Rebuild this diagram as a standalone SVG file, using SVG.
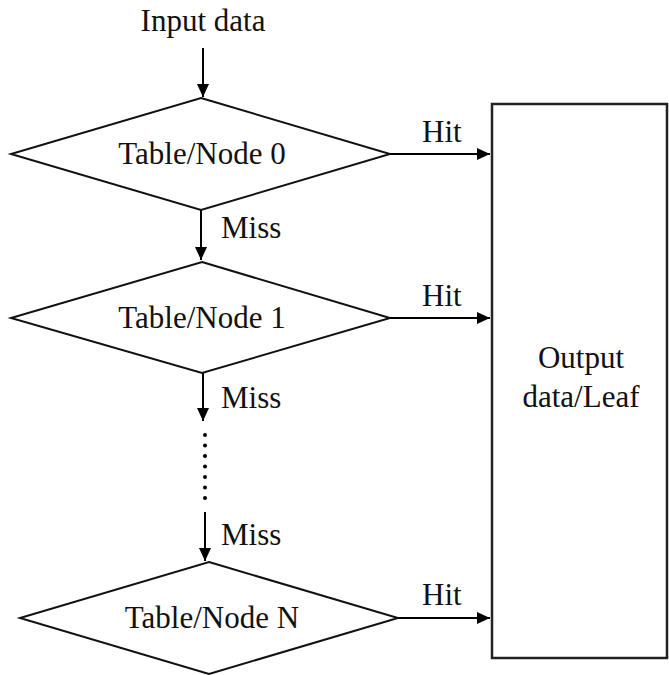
<svg xmlns="http://www.w3.org/2000/svg" width="669" height="675" viewBox="0 0 669 675">
  <defs>
    <marker id="arrow" markerUnits="userSpaceOnUse" markerWidth="13" markerHeight="12" refX="13" refY="6" orient="auto">
      <path d="M0,0 L13,6 L0,12 z" fill="#000"/>
    </marker>
    <style>
      text { font-family: "Liberation Serif", "Times New Roman", serif; font-size: 31px; fill: #111; }
      .mid { text-anchor: middle; }
      .shape { fill: #fff; stroke: #111; stroke-width: 2; }
      .box { fill: #fff; stroke: #222; stroke-width: 2.5; }
      .edge { fill: none; stroke: #000; stroke-width: 2; marker-end: url(#arrow); }
      .dot { fill: #000; }
    </style>
  </defs>
  <rect width="669" height="675" fill="#fff"/>

  <text class="mid" x="203" y="31">Input data</text>

  <g id="node0">
    <polygon class="shape" points="201,98 390,154 201,210 11,154"/>
    <text class="mid" x="202" y="164">Table/Node 0</text>
  </g>

  <g id="node1">
    <polygon class="shape" points="202,262 390,318 202,373 11,318"/>
    <text class="mid" x="202" y="328">Table/Node 1</text>
  </g>

  <g id="nodeN">
    <polygon class="shape" points="209,562 398,618 209,674 20,618"/>
    <text class="mid" x="212" y="628">Table/Node N</text>
  </g>

  <g id="leaf">
    <rect class="box" x="492" y="104" width="175" height="554"/>
    <text class="mid" x="581" y="368">Output</text>
    <text class="mid" x="581" y="407">data/Leaf</text>
  </g>

  <g id="connectors">
    <line class="edge" x1="203" y1="48" x2="203" y2="97"/>
    <line class="edge" x1="201" y1="210" x2="201" y2="260"/>
    <line class="edge" x1="203" y1="373" x2="203" y2="421"/>
    <line class="edge" x1="205" y1="512" x2="205" y2="561"/>
    <line class="edge" x1="390" y1="154" x2="490" y2="154"/>
    <line class="edge" x1="390" y1="318" x2="490" y2="318"/>
    <line class="edge" x1="398" y1="618" x2="490" y2="618"/>
    <g id="ellipsis">
      <circle class="dot" cx="205" cy="435" r="2"/>
      <circle class="dot" cx="205" cy="445.5" r="2"/>
      <circle class="dot" cx="205" cy="456" r="2"/>
      <circle class="dot" cx="205" cy="466.5" r="2"/>
      <circle class="dot" cx="205" cy="477" r="2"/>
      <circle class="dot" cx="205" cy="487.5" r="2"/>
      <circle class="dot" cx="205" cy="498" r="2"/>
    </g>
    <text x="422" y="142">Hit</text>
    <text x="422" y="306">Hit</text>
    <text x="422" y="605">Hit</text>
    <text x="221" y="238">Miss</text>
    <text x="221" y="408">Miss</text>
    <text x="221" y="545">Miss</text>
  </g>
</svg>
